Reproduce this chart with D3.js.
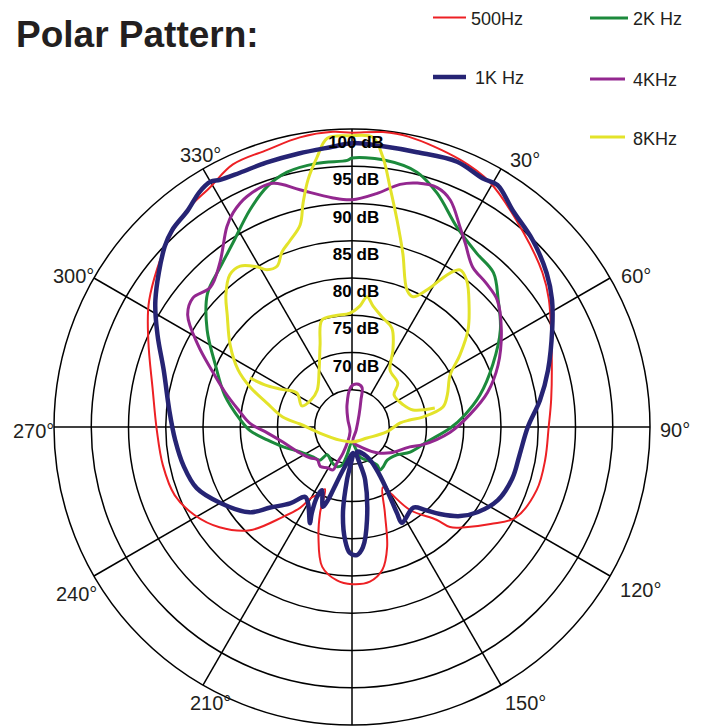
<!doctype html>
<html lang="en">
<head>
<meta charset="utf-8">
<title>Polar Pattern</title>
<style>
  html, body { margin: 0; padding: 0; background: #fff; }
  svg text { font-family: "Liberation Sans", Arial, Helvetica, sans-serif; fill: #231f20; }
</style>
</head>
<body>
<div id="chart"></div>
<script src="https://cdn.jsdelivr.net/npm/d3@7"></script>
<script>
// ring values (dB) and spoke angles (degrees, clockwise from top)
var dbRings = [65, 70, 75, 80, 85, 90, 95, 100];
var dbLabels = [70, 75, 80, 85, 90, 95, 100];
var spokeAngles = [0, 30, 60, 90, 120, 150, 180, 210, 240, 270, 300, 330];
var angleLabels = [30, 60, 90, 120, 150, 210, 240, 270, 300, 330];

// series: [angle deg, level dB]
var hz500 = [[0,99.5],[6,99.8],[11,99.7],[22,98.7],[29.4,97.7],[41.4,94.8],[51,92.9],[57,91.5],[69,88.7],[82,87.0],
  [90,86.4],[99.7,86.3],[108.8,86.2],[119,85.1],[125,82.7],[131.5,80.3],[135.6,78.8],[137.6,76.9],[145,73.6],[150,70.2],
  [153,69.1],[159,72.3],[163.7,76.8],[168,79.6],[173.4,80.9],[180,81.1],[185.6,80.7],[192,79.2],[197,75.4],[200.4,72.3],
  [203.5,69.1],[207,70.2],[209.7,70.9],[212.7,72.9],[217.5,75.2],[224.7,79.5],[232.9,82.3],[240.7,84.2],[249,85.5],
  [258.6,85.9],[269,86.2],[280.5,87.2],[293,89.7],[302,92.1],[315.5,95.2],[322.8,96.6],[329.4,97.4],[335.6,98.7],
  [343,98.9],[349.8,99.5],[356.3,99.7]];

var hz1k = [[0,98.1],[6.3,97.9],[13.3,97.9],[21.6,98.3],[27.8,97.7],[31,97.9],[36.6,96.2],[44,94.9],[51.7,93.3],
  [57.6,91.8],[64,89.9],[73.8,87.4],[81.8,85.5],[90,83.6],[99.5,82.8],[107.7,82.6],[116.6,81.9],[124,80.4],[129.5,78.8],
  [134.7,76.6],[138.7,74.8],[142.7,73.6],[152.5,74.5],[152.4,73.0],[151,69.7],[150,66.7],[153,64.5],[169,63.4],
  [166,67.3],[170.8,72.6],[174.8,76.2],[177.8,77.2],[181,76.9],[183.5,75.2],[186,71.6],[185.4,67.1],[178,63.5],
  [191.8,65.9],[196.8,68.9],[198.2,70.3],[200,71.4],[205.5,69.4],[206.6,70.5],[205,72.8],[203.6,74.1],[210,71.8],
  [213.9,71.3],[219,73.2],[225.4,75.4],[230.2,77.9],[240,80.4],[248.5,82.4],[257,83.2],[265.8,83.8],[275,84.6],
  [286.8,86.4],[295.4,88.9],[302.8,91.4],[313.9,94.9],[317.6,95.8],[322.9,96.5],[327,97.6],[330,98.0],[331.9,97.6],
  [336.2,97.3],[342,97.3],[349,97.4],[356,97.7]];

var hz2k = [[0,96.1],[6.6,96.1],[14.3,95.3],[20,93.4],[27.7,90.3],[35.7,88.7],[42.5,88.1],[49,86.0],[56.8,83.8],
  [66,80.7],[76,77.7],[84,75.2],[90.6,73.2],[101,70.3],[113.3,68.5],[121.9,67.1],[133.3,66.5],[142.2,66.8],[146.9,66.9],
  [146.7,66.1],[155.6,64.9],[165,64.2],[180,62.1],[190,63.8],[194.7,65.3],[200.6,65.7],[209,65.5],[221.8,65.0],
  [224.1,66.2],[232.4,66.6],[244.3,67.7],[253.8,69.6],[261.3,71.5],[268,73.7],[273.6,75.0],[284,77.6],[294.3,80.1],
  [303.8,83.4],[312.7,86.4],[320.5,87.8],[327,89.4],[334.8,92.2],[340.5,94.2],[345.7,95.3],[352.4,95.7],[359,95.8]];

var hz4k = [[0,90.5],[6,91.5],[11.2,93.2],[15,93.9],[19.6,94.1],[23.4,93.2],[28.4,90.5],[31.6,89.0],[37,86.9],
  [43,86.4],[48.8,85.9],[57,83.9],[67,81.3],[75.6,78.8],[84,75.9],[93,73.2],[104,69.8],[109,68.2],[124,66.2],[136,64.8],
  [152,63.2],[176,62.0],[127,60.7],[30,61.9],[18.4,63.8],[14,65.5],[6.6,65.8],[358.6,65.4],[347,63.0],[330,61.1],
  [202,60.7],[199,63.7],[202.6,65.2],[203.8,66.3],[211.4,66.4],[218.7,66.8],[226.7,66.4],[233.6,67.0],[243.4,67.8],
  [257.7,69.5],[266,71.4],[272,73.7],[278.5,75.4],[285.4,77.7],[292,80.3],[298,83.4],[304.3,86.7],[309,87.5],
  [314.6,86.7],[321.2,88.3],[328,91.7],[331,92.9],[335.5,94.0],[342,94.4],[347.6,92.6],[355,90.9]];

var hz8kOuter = [[176,62.0],[222.7,62.4],[259.4,64.4],[273.3,67.0],[278.2,69.4],[285.8,71.9],[291.4,74.7],
  [296.6,77.1],[303.9,79.7],[311.9,82.5],[316.3,84.5],[321.25,86.2],[325.2,86.3],[329.3,85.0],[331.6,84.0],[335,83.8],
  [338.2,85.3],[341.7,86.4],[345.6,88.0],[347.7,90.8],[349.9,93.7],[352.6,96.5],[355.1,98.9],[359.6,99.1],[4.1,99.0],
  [6.5,96.5],[9.0,92.6],[12.3,88.4],[16.3,84.3],[21.9,79.8],[25.1,79.3],[28.7,81.0],[30.9,83.0],[32.5,84.5],
  [34.5,85.6],[38.0,85.0],[43.8,82.7],[50.1,80.3],[56.3,77.4],[62.1,74.9],[71.4,73.5],[77.6,72.5],[82,69.6],
  [83.1,67.8],[85.2,66.5],[98.1,64.7],[126.3,62.5]];

var hz8kInner = [[295.7,75.2],[295.8,73.0],[297.8,70.9],[301.7,68.7],[292.8,67.3],[303.4,66.6],[316.6,66.8],
  [329.9,68.8],[338.7,71.8],[344.3,74.9],[351.3,75.1],[359,75.3],[3.8,76.3],[6.6,77.6],[9.8,76.5],[15.9,75.2],
  [22,74.3],[28,71.7],[33.7,69.2],[46.3,68.5],[52.7,67.1],[66.7,67.5],[74.4,68.5],[77.1,71.4]];

var legendItems = [
  { name: "500Hz", color: "#ed2024", width: 2 },
  { name: "1K Hz", color: "#262474", width: 4.5 },
  { name: "2K Hz", color: "#1c8a3c", width: 3 },
  { name: "4KHz", color: "#93278f", width: 3 },
  { name: "8KHz", color: "#e3e32a", width: 3 }
];

var width = 704, height = 728;
var cx = 352, cy = 427, R = 298;

var svg = d3.select("#chart").append("svg")
    .attr("width", width)
    .attr("height", height);

svg.append("rect").attr("width", width).attr("height", height).attr("fill", "#fff");

var r = d3.scaleLinear().domain([60, 100]).range([0, R]);
var toRad = function(a) { return a * Math.PI / 180; };

var g = svg.append("g").attr("transform", "translate(" + cx + "," + cy + ")");

// grid
g.selectAll("circle.ring")
    .data(dbRings)
    .enter().append("circle")
    .attr("class", "ring")
    .attr("r", function(d) { return r(d); })
    .attr("fill", "none")
    .attr("stroke", "#000")
    .attr("stroke-width", 1.5);

g.selectAll("line.spoke")
    .data(spokeAngles)
    .enter().append("line")
    .attr("class", "spoke")
    .attr("x1", function(d) { return r(65) * Math.sin(toRad(d)); })
    .attr("y1", function(d) { return -r(65) * Math.cos(toRad(d)); })
    .attr("x2", function(d) { return r(100) * Math.sin(toRad(d)); })
    .attr("y2", function(d) { return -r(100) * Math.cos(toRad(d)); })
    .attr("stroke", "#000")
    .attr("stroke-width", 1.5);

// angle labels, offset from the spoke end
var labelNudge = {
  30: [9, -2], 60: [11, 5], 90: [10, 10], 120: [10, 21], 150: [4, 25],
  210: [-13, 25], 240: [-38, 25], 270: [-41, 11], 300: [-41, 5], 330: [-23, -7]
};
g.selectAll("text.angle")
    .data(angleLabels)
    .enter().append("text")
    .attr("class", "angle")
    .attr("x", function(d) { return r(100) * Math.sin(toRad(d)) + labelNudge[d][0]; })
    .attr("y", function(d) { return -r(100) * Math.cos(toRad(d)) + labelNudge[d][1]; })
    .attr("font-size", 20)
    .text(function(d) { return d + "°"; });

// curves
var radial = d3.lineRadial()
    .angle(function(d) { return toRad(d[0]); })
    .radius(function(d) { return r(d[1]); })
    .curve(d3.curveCatmullRomClosed.alpha(0.5));

var radialOpen = d3.lineRadial()
    .angle(function(d) { return toRad(d[0]); })
    .radius(function(d) { return r(d[1]); })
    .curve(d3.curveCatmullRom.alpha(0.5));

function drawCurve(data, item, gen) {
  g.append("path")
      .datum(data)
      .attr("d", gen)
      .attr("fill", "none")
      .attr("stroke", item.color)
      .attr("stroke-width", item.width)
      .attr("stroke-linejoin", "round");
}

drawCurve(hz500, legendItems[0], radial);
drawCurve(hz2k, legendItems[2], radial);
drawCurve(hz4k, legendItems[3], radial);
drawCurve(hz8kOuter, legendItems[4], radial);
drawCurve(hz8kInner, legendItems[4], radialOpen);
drawCurve(hz1k, legendItems[1], radial);

// dB labels
g.selectAll("text.db")
    .data(dbLabels)
    .enter().append("text")
    .attr("class", "db")
    .attr("x", 4)
    .attr("y", function(d) { return -r(d) + 19; })
    .attr("text-anchor", "middle")
    .attr("font-size", 17)
    .attr("font-weight", "bold")
    .style("fill", "#000")
    .text(function(d) { return d + " dB"; });

// title
svg.append("text")
    .attr("x", 16)
    .attr("y", 47)
    .attr("font-size", 37)
    .attr("font-weight", "bold")
    .text("Polar Pattern:");

// legend
var legendPos = [[433, 466, 17.5, 471, 25], [433, 466, 77, 475, 84], [590, 628, 18, 633, 25],
                 [590, 625, 79, 633, 86], [590, 625, 137, 633, 145]];
var legend = svg.selectAll("g.legend")
    .data(legendItems)
    .enter().append("g")
    .attr("class", "legend");

legend.append("line")
    .attr("x1", function(d, i) { return legendPos[i][0]; })
    .attr("x2", function(d, i) { return legendPos[i][1]; })
    .attr("y1", function(d, i) { return legendPos[i][2]; })
    .attr("y2", function(d, i) { return legendPos[i][2]; })
    .attr("stroke", function(d) { return d.color; })
    .attr("stroke-width", function(d) { return d.width; });

legend.append("text")
    .attr("x", function(d, i) { return legendPos[i][3]; })
    .attr("y", function(d, i) { return legendPos[i][4]; })
    .attr("font-size", 18)
    .text(function(d) { return d.name; });
</script>
</body>
</html>
